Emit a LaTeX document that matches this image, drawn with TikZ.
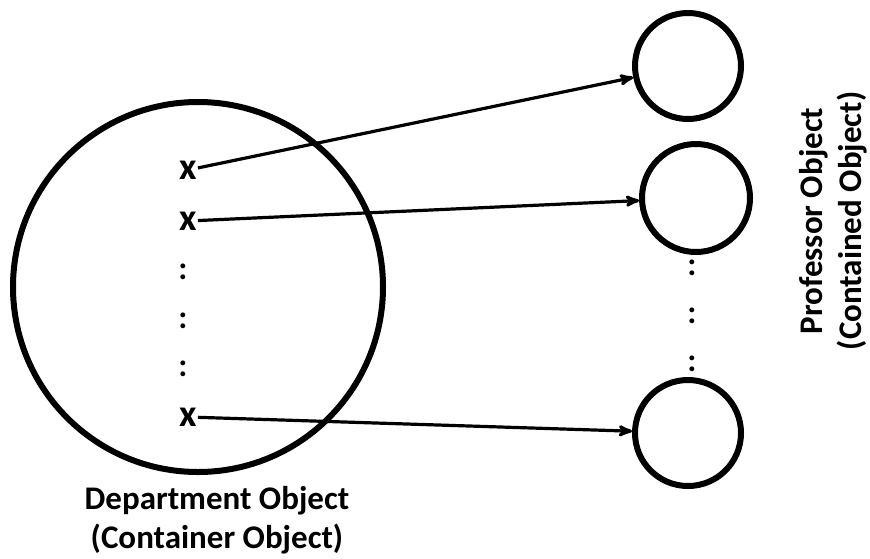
\documentclass[tikz,border=0pt]{standalone}
\usepackage{fontspec}
\setmainfont{Carlito}
\usepackage{tikz}
\usetikzlibrary{arrows}
\newcommand{\lbl}{\fontsize{33}{39}\selectfont\bfseries}
\newcommand{\xlbl}{\fontsize{38}{40}\selectfont\bfseries}

\begin{document}
\begin{tikzpicture}[x=1pt,y=-1pt,
    obj/.style={draw,circle,line width=6pt,inner sep=0pt},
    member/.style={font=\xlbl,inner sep=1pt},
    dots/.style={font=\lbl,inner sep=1pt},
    ref/.style={line width=3.2pt,->,>=stealth'}]
       \useasboundingbox (0,0) rectangle (870,558);
       \node[obj,minimum size=370pt] (dept) at (198,287) {};
       \node[obj,minimum size=106pt] (prof1) at (688,66) {};
       \node[obj,minimum size=108pt] (prof2) at (696,198) {};
       \node[obj,minimum size=106pt] (prof3) at (688,433) {};
       \node[member] (x1) at (188,170) {x};
       \node[member] (x2) at (188,221) {x};
       \node[member] (x3) at (188,417) {x};
       \foreach \y/\n in {272/1,321/2,369/3}
          \node[dots] (ldots\n) at (183,\y) {:};
       \foreach \y/\n in {268/1,316/2,364/3}
          \node[dots] (rdots\n) at (692,\y) {:};
       \draw[ref] (x1) -- (prof1);
       \draw[ref] (x2) -- (prof2);
       \draw[ref] (x3) -- (prof3);
       \node[font=\lbl,align=center] (deptlbl) at (217,520) {Department Object\\(Container Object)};
       \node[font=\lbl,align=center,rotate=90] (proflbl) at (833,221) {Professor Object\\(Contained Object)};
      \end{tikzpicture}
\end{document}
